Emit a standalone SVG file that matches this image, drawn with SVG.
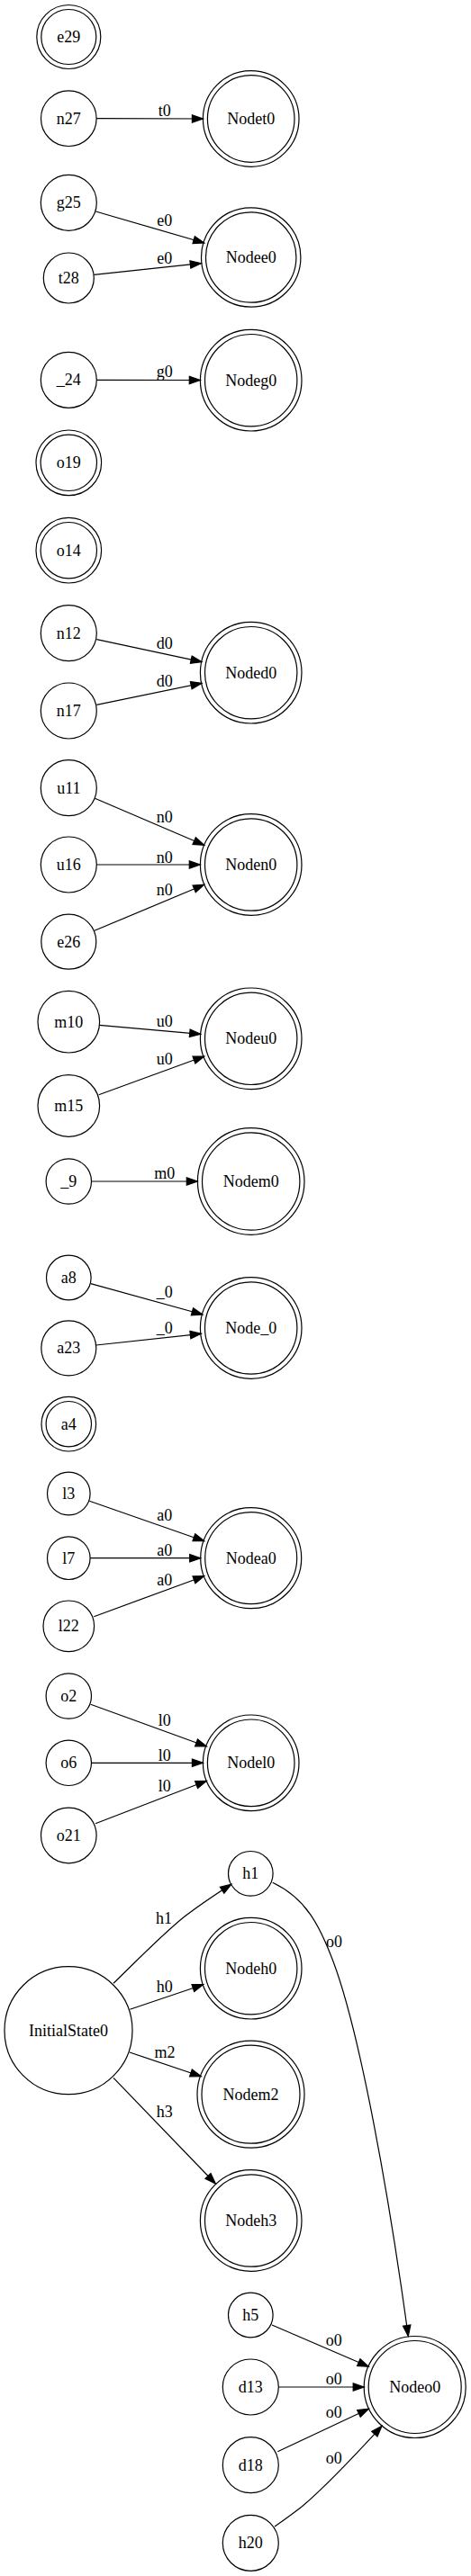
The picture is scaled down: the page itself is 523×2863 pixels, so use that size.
<svg xmlns="http://www.w3.org/2000/svg" width="523" height="2863" viewBox="0 0 523 2863">
<defs>
<style>
.n circle{fill:none;stroke:#000;stroke-width:1.2}
text{font-family:"Liberation Serif","Times New Roman",serif;font-size:18px;fill:#000;text-anchor:middle}
.e path{fill:none;stroke:#000;stroke-width:1.2;marker-end:url(#ah)}
</style>
<marker id="ah" markerUnits="userSpaceOnUse" markerWidth="14" markerHeight="10" refX="12" refY="4.2" orient="auto" overflow="visible">
<path d="M0,0 L12,4.2 L0,8.4 Z" fill="#000" stroke="#000" stroke-width="1.2"/>
</marker>
</defs>
<rect width="523" height="2863" fill="#fff"/>
<g id="nodes">
<g id="e29" class="n"><circle cx="76.3" cy="41" r="30.5"/><circle cx="76.3" cy="41" r="35.5"/><text x="76.3" y="47">e29</text></g>
<g id="n27" class="n"><circle cx="76.3" cy="131.7" r="30.8"/><text x="76.3" y="137.7">n27</text></g>
<g id="Nodet0" class="n"><circle cx="278.7" cy="132" r="48.3"/><circle cx="278.7" cy="132" r="53.3"/><text x="278.7" y="138">Nodet0</text></g>
<g id="g25" class="n"><circle cx="76.3" cy="225.3" r="31"/><text x="76.3" y="231.3">g25</text></g>
<g id="t28" class="n"><circle cx="76.3" cy="309" r="28"/><text x="76.3" y="315">t28</text></g>
<g id="Nodee0" class="n"><circle cx="278.7" cy="286" r="50.2"/><circle cx="278.7" cy="286" r="55.2"/><text x="278.7" y="292">Nodee0</text></g>
<g id="_24" class="n"><circle cx="76.3" cy="422.3" r="31"/><text x="76.3" y="428.3">_24</text></g>
<g id="Nodeg0" class="n"><circle cx="278.7" cy="422.7" r="51.2"/><circle cx="278.7" cy="422.7" r="56.3"/><text x="278.7" y="428.7">Nodeg0</text></g>
<g id="o19" class="n"><circle cx="76.3" cy="514.3" r="31.2"/><circle cx="76.3" cy="514.3" r="36.3"/><text x="76.3" y="520.3">o19</text></g>
<g id="o14" class="n"><circle cx="76.3" cy="611.7" r="31.2"/><circle cx="76.3" cy="611.7" r="36.3"/><text x="76.3" y="617.7">o14</text></g>
<g id="n12" class="n"><circle cx="76.3" cy="703.7" r="31"/><text x="76.3" y="709.7">n12</text></g>
<g id="n17" class="n"><circle cx="76.3" cy="790" r="31"/><text x="76.3" y="796">n17</text></g>
<g id="Noded0" class="n"><circle cx="278.7" cy="747.7" r="51.2"/><circle cx="278.7" cy="747.7" r="56.3"/><text x="278.7" y="753.7">Noded0</text></g>
<g id="u11" class="n"><circle cx="76.3" cy="875.7" r="31"/><text x="76.3" y="881.7">u11</text></g>
<g id="u16" class="n"><circle cx="76.3" cy="961" r="31"/><text x="76.3" y="967">u16</text></g>
<g id="e26" class="n"><circle cx="76.3" cy="1046.7" r="30.5"/><text x="76.3" y="1052.7">e26</text></g>
<g id="Noden0" class="n"><circle cx="278.7" cy="961" r="51.2"/><circle cx="278.7" cy="961" r="56.3"/><text x="278.7" y="967">Noden0</text></g>
<g id="m10" class="n"><circle cx="76.3" cy="1135.7" r="34.3"/><text x="76.3" y="1141.7">m10</text></g>
<g id="m15" class="n"><circle cx="76.3" cy="1229" r="34.3"/><text x="76.3" y="1235">m15</text></g>
<g id="Nodeu0" class="n"><circle cx="278.7" cy="1154.3" r="51.2"/><circle cx="278.7" cy="1154.3" r="56.3"/><text x="278.7" y="1160.3">Nodeu0</text></g>
<g id="_9" class="n"><circle cx="76.3" cy="1313" r="25.2"/><text x="76.3" y="1319">_9</text></g>
<g id="Nodem0" class="n"><circle cx="278.7" cy="1313" r="54.2"/><circle cx="278.7" cy="1313" r="59.3"/><text x="278.7" y="1319">Nodem0</text></g>
<g id="a8" class="n"><circle cx="76.3" cy="1420" r="24.8"/><text x="76.3" y="1426">a8</text></g>
<g id="a23" class="n"><circle cx="76.3" cy="1498.3" r="30.5"/><text x="76.3" y="1504.3">a23</text></g>
<g id="Node_0" class="n"><circle cx="278.7" cy="1476" r="51.2"/><circle cx="278.7" cy="1476" r="56.3"/><text x="278.7" y="1482">Node_0</text></g>
<g id="a4" class="n"><circle cx="76.3" cy="1582.7" r="25.2"/><circle cx="76.3" cy="1582.7" r="30.3"/><text x="76.3" y="1588.7">a4</text></g>
<g id="l3" class="n"><circle cx="76.3" cy="1660" r="23.8"/><text x="76.3" y="1666">l3</text></g>
<g id="l7" class="n"><circle cx="76.3" cy="1731.7" r="23.8"/><text x="76.3" y="1737.7">l7</text></g>
<g id="l22" class="n"><circle cx="76.3" cy="1807.3" r="28.3"/><text x="76.3" y="1813.3">l22</text></g>
<g id="Nodea0" class="n"><circle cx="278.7" cy="1731.7" r="51"/><circle cx="278.7" cy="1731.7" r="56"/><text x="278.7" y="1737.7">Nodea0</text></g>
<g id="o2" class="n"><circle cx="76.3" cy="1885" r="25.2"/><text x="76.3" y="1891">o2</text></g>
<g id="o6" class="n"><circle cx="76.3" cy="1959.3" r="25.2"/><text x="76.3" y="1965.3">o6</text></g>
<g id="o21" class="n"><circle cx="76.3" cy="2040" r="30.8"/><text x="76.3" y="2046">o21</text></g>
<g id="Nodel0" class="n"><circle cx="278.7" cy="1959.3" r="48.3"/><circle cx="278.7" cy="1959.3" r="53.3"/><text x="278.7" y="1965.3">Nodel0</text></g>
<g id="h1" class="n"><circle cx="278.3" cy="2082.3" r="24.8"/><text x="278.3" y="2088.3">h1</text></g>
<g id="InitialState0" class="n"><circle cx="76" cy="2256.7" r="71"/><text x="76" y="2262.7">InitialState0</text></g>
<g id="Nodeh0" class="n"><circle cx="278.7" cy="2187.7" r="51.2"/><circle cx="278.7" cy="2187.7" r="56.3"/><text x="278.7" y="2193.7">Nodeh0</text></g>
<g id="Nodem2" class="n"><circle cx="278.5" cy="2327.7" r="54.5"/><circle cx="278.5" cy="2327.7" r="59.5"/><text x="278.5" y="2333.7">Nodem2</text></g>
<g id="Nodeh3" class="n"><circle cx="278.7" cy="2468" r="51.2"/><circle cx="278.7" cy="2468" r="56.3"/><text x="278.7" y="2474">Nodeh3</text></g>
<g id="h5" class="n"><circle cx="278.3" cy="2573" r="24.8"/><text x="278.3" y="2579">h5</text></g>
<g id="d13" class="n"><circle cx="278.3" cy="2653" r="31"/><text x="278.3" y="2659">d13</text></g>
<g id="d18" class="n"><circle cx="278.3" cy="2739.7" r="31"/><text x="278.3" y="2745.7">d18</text></g>
<g id="h20" class="n"><circle cx="278.3" cy="2826.3" r="31"/><text x="278.3" y="2832.3">h20</text></g>
<g id="Nodeo0" class="n"><circle cx="460.7" cy="2653" r="51.5"/><circle cx="460.7" cy="2653" r="56.5"/><text x="460.7" y="2659">Nodeo0</text></g>
</g>
<g id="edges" class="e">
<path d="M107.1,131.7 L225.4,132"/><text x="182.7" y="129">t0</text>
<path d="M106.3,235 L226.7,270"/><text x="182.7" y="251">e0</text>
<path d="M104.3,305.3 L223.3,292.7"/><text x="182.7" y="293.3">e0</text>
<path d="M107.3,422.3 L222.3,422.5"/><text x="182.7" y="419.3">g0</text>
<path d="M107.3,710.7 L224,735.7"/><text x="182.7" y="721.3">d0</text>
<path d="M107.3,783.3 L224,759.3"/><text x="182.7" y="762.7">d0</text>
<path d="M105.3,887.3 L226.7,939.3"/><text x="182.7" y="913.7">n0</text>
<path d="M107.3,961 L222.3,961"/><text x="182.7" y="958.7">n0</text>
<path d="M105,1034.3 L226.7,983.3"/><text x="182.7" y="995.3">n0</text>
<path d="M110.3,1139.3 L222.7,1149.3"/><text x="182.7" y="1141">u0</text>
<path d="M109.7,1216.7 L226.7,1174"/><text x="182.7" y="1182.7">u0</text>
<path d="M101.5,1313 L219.3,1313"/><text x="182.7" y="1310">m0</text>
<path d="M100.7,1426.7 L225,1461"/><text x="182.7" y="1442">_0</text>
<path d="M106.7,1495 L223.3,1482.3"/><text x="182.7" y="1482">_0</text>
<path d="M99.3,1668.3 L226.7,1712.7"/><text x="182.7" y="1690.3">a0</text>
<path d="M100.1,1731.7 L222.7,1731.7"/><text x="182.7" y="1728.7">a0</text>
<path d="M104.3,1796.7 L226.7,1751.7"/><text x="182.7" y="1762">a0</text>
<path d="M100.7,1894.3 L229.3,1941"/><text x="182.7" y="1917.7">l0</text>
<path d="M101.5,1959.3 L225.4,1959.3"/><text x="182.7" y="1957">l0</text>
<path d="M106,2026.7 L229.3,1979.3"/><text x="182.7" y="1991">l0</text>
<path d="M126,2204.3 C150,2181 180,2150 205,2130 C222,2117 240,2105 256.7,2094.3"/><text x="182" y="2137.7">h1</text>
<path d="M144.3,2233.3 L225.7,2205.7"/><text x="182.7" y="2214.3">h0</text>
<path d="M144,2281 L223.3,2307.7"/><text x="183" y="2286.7">m2</text>
<path d="M126,2309.3 L239.3,2427"/><text x="182.7" y="2353.3">h3</text>
<path d="M302.7,2092.3 C340,2110 355,2140 370,2180 C400,2260 432,2440 453.3,2596.5"/><text x="371" y="2164.3">o0</text>
<path d="M302,2584 L409.3,2630.3"/><text x="370.7" y="2607.3">o0</text>
<path d="M309.3,2653 L404.2,2653"/><text x="370.7" y="2650">o0</text>
<path d="M308.3,2724.7 L409.3,2677.3"/><text x="370.7" y="2686.7">o0</text>
<path d="M305,2808 C318,2799 326,2793 335,2786 C360,2765 395,2728 424,2696.3"/><text x="370.7" y="2738.3">o0</text>
</g>
</svg>
